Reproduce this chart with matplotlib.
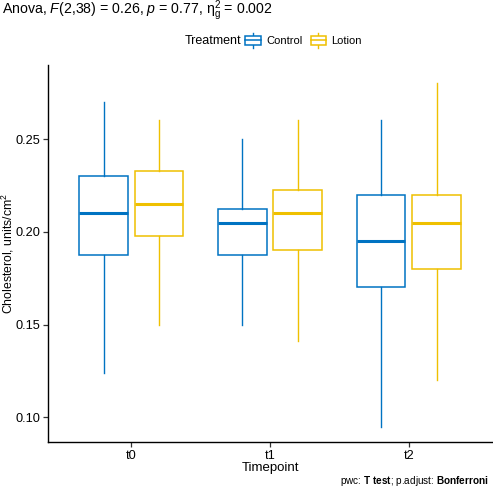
import matplotlib.pyplot as plt
from matplotlib.legend_handler import HandlerBase
from matplotlib.patches import Rectangle
from matplotlib.lines import Line2D

plt.rcParams['font.family'] = ['Liberation Sans', 'DejaVu Sans']
plt.rcParams['mathtext.fontset'] = 'custom'
plt.rcParams['mathtext.rm'] = 'Liberation Sans'
plt.rcParams['mathtext.it'] = 'Liberation Sans:italic'
plt.rcParams['mathtext.bf'] = 'Liberation Sans:bold'

# boxplot summaries
timepoints = ['t0', 't1', 't2']
treatments = ['Control', 'Lotion']
colors = ['#0073C2', '#EFC000']

control_lo = [0.124, 0.150, 0.095]
control_q1 = [0.1875, 0.1875, 0.170]
control_med = [0.210, 0.205, 0.195]
control_q3 = [0.230, 0.2125, 0.220]
control_hi = [0.270, 0.250, 0.260]

lotion_lo = [0.150, 0.141, 0.120]
lotion_q1 = [0.1975, 0.190, 0.180]
lotion_med = [0.215, 0.210, 0.205]
lotion_q3 = [0.2325, 0.2225, 0.220]
lotion_hi = [0.260, 0.260, 0.280]

series = {
    'Control': (control_lo, control_q1, control_med, control_q3, control_hi),
    'Lotion': (lotion_lo, lotion_q1, lotion_med, lotion_q3, lotion_hi),
}

fig = plt.figure(figsize=(4.93, 4.91), dpi=100)
ax = fig.add_axes([48 / 493, 1 - 442 / 491, 444 / 493, (442 - 65) / 491])

offsets = [-0.2, 0.2]
for k, name in enumerate(treatments):
    lo, q1, med, q3, hi = series[name]
    stats = [dict(whislo=lo[i], q1=q1[i], med=med[i], q3=q3[i], whishi=hi[i], fliers=[])
             for i in range(len(timepoints))]
    c = colors[k]
    ax.bxp(stats, positions=[i + offsets[k] for i in range(len(timepoints))],
           widths=0.35, showcaps=False, patch_artist=True,
           boxprops=dict(facecolor='white', edgecolor=c, linewidth=1.1),
           medianprops=dict(color=c, linewidth=2.2, solid_capstyle='butt'),
           whiskerprops=dict(color=c, linewidth=1.0))

ax.set_xlim(-0.6, 2.6)
ax.set_ylim(0.0867, 0.2899)
ax.set_xticks(range(len(timepoints)))
ax.set_xticklabels(timepoints)
ax.set_yticks([0.10, 0.15, 0.20, 0.25])
ax.set_yticklabels(['0.10', '0.15', '0.20', '0.25'])
ax.tick_params(axis='both', labelsize=9.2, colors='#333333', labelcolor='black',
               length=3.5, width=0.9, direction='out')
ax.tick_params(axis='x', pad=2)
ax.tick_params(axis='y', pad=2)
for side in ['top', 'right']:
    ax.spines[side].set_visible(False)
for side in ['left', 'bottom']:
    ax.spines[side].set_linewidth(1.0)
    ax.spines[side].set_color('black')

ax.set_xlabel('Timepoint', fontsize=9.5, labelpad=0)
ax.set_ylabel('Cholesterol, units/cm$^2$', fontsize=8.8)
ax.yaxis.set_label_coords(-0.072, 0.5)

fig.text(2 / 493, 1 - 11 / 491,
         r'Anova, $\mathit{F}$(2,38) = 0.26, $\mathit{p}$ = 0.77, $\mathrm{\eta}^2_\mathrm{g}$ = 0.002',
         fontsize=10.2, ha='left', va='center')

fig.text(489 / 493, 1 - 481 / 491,
         r'pwc: $\mathbf{T\ test}$; p.adjust: $\mathbf{Bonferroni}$',
         fontsize=7.2, ha='right', va='center')


class BoxHandler(HandlerBase):
    def create_artists(self, legend, orig_handle, xdescent, ydescent, width, height, fontsize, trans):
        c = orig_handle.get_color()
        cx = width / 2 - xdescent
        bw = width * 0.95
        rect = Rectangle((cx - bw / 2, height * 0.05 - ydescent), bw, height * 0.9,
                         facecolor='white', edgecolor=c, linewidth=1.1, transform=trans)
        mid = Line2D([cx - bw / 2, cx + bw / 2], [height * 0.5 - ydescent] * 2,
                     color=c, linewidth=1.1, transform=trans)
        up = Line2D([cx, cx], [height * 0.95 - ydescent, height * 1.3 - ydescent],
                    color=c, linewidth=1.0, transform=trans)
        dn = Line2D([cx, cx], [-height * 0.3 - ydescent, height * 0.05 - ydescent],
                    color=c, linewidth=1.0, transform=trans)
        return [up, dn, rect, mid]


handles = [Line2D([], [], color=c) for c in colors]
fig.text(185 / 493, 1 - 41 / 491, 'Treatment', fontsize=9, ha='left', va='center')
fig.legend(handles, treatments, handler_map={Line2D: BoxHandler()},
           loc='center left', bbox_to_anchor=(245 / 493, 1 - 41 / 491),
           ncol=2, frameon=False, fontsize=8, handlelength=1.5, handleheight=0.9,
           handletextpad=0.4, columnspacing=0.7, borderpad=0, borderaxespad=0)

fig.savefig('out.png', dpi=100)
